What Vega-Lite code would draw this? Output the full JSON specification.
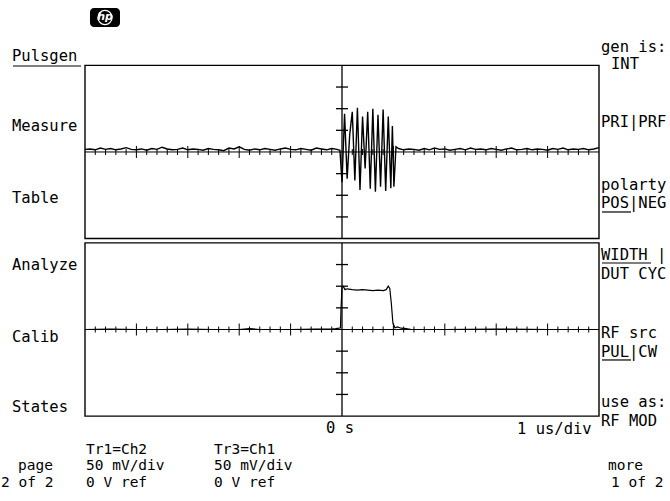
{
"$schema": "https://vega.github.io/schema/vega-lite/v6.json",
"width": 670, "height": 501, "autosize": "none", "padding": 0,
"background": "white",
"config": {"view": {"stroke": null}},
"datasets": {
"top": [
{"t":-5.0,"v":6},{"t":-4.9,"v":7},{"t":-4.8,"v":5},{"t":-4.7,"v":9},{"t":-4.6,"v":6},{"t":-4.5,"v":8},{"t":-4.4,"v":5},{"t":-4.3,"v":7},{"t":-4.2,"v":10},{"t":-4.1,"v":6},
{"t":-4.0,"v":5},{"t":-3.9,"v":7},{"t":-3.8,"v":4},{"t":-3.7,"v":8},{"t":-3.6,"v":6},{"t":-3.5,"v":11},{"t":-3.4,"v":7},{"t":-3.3,"v":5},{"t":-3.2,"v":6},{"t":-3.1,"v":9},
{"t":-3.0,"v":5},{"t":-2.9,"v":7},{"t":-2.8,"v":6},{"t":-2.7,"v":4},{"t":-2.6,"v":8},{"t":-2.5,"v":6},{"t":-2.4,"v":5},{"t":-2.3,"v":3},{"t":-2.2,"v":9},{"t":-2.1,"v":7},
{"t":-2.0,"v":12},{"t":-1.9,"v":6},{"t":-1.8,"v":4},{"t":-1.7,"v":7},{"t":-1.6,"v":5},{"t":-1.5,"v":8},{"t":-1.4,"v":6},{"t":-1.3,"v":4},{"t":-1.2,"v":7},{"t":-1.1,"v":9},
{"t":-1.0,"v":6},{"t":-0.9,"v":5},{"t":-0.8,"v":8},{"t":-0.7,"v":6},{"t":-0.6,"v":4},{"t":-0.5,"v":9},{"t":-0.4,"v":7},{"t":-0.3,"v":5},{"t":-0.2,"v":8},{"t":-0.1,"v":6},{"t":-0.04,"v":4},
{"t":0.0,"v":-70},{"t":0.05,"v":88},{"t":0.1,"v":-62},{"t":0.15,"v":40},{"t":0.2,"v":93},{"t":0.25,"v":-66},{"t":0.3,"v":102},{"t":0.35,"v":-88},{"t":0.4,"v":82},{"t":0.45,"v":-38},
{"t":0.5,"v":93},{"t":0.55,"v":-85},{"t":0.6,"v":100},{"t":0.65,"v":-92},{"t":0.7,"v":86},{"t":0.75,"v":-80},{"t":0.8,"v":98},{"t":0.85,"v":-90},{"t":0.9,"v":82},{"t":0.95,"v":-84},
{"t":0.98,"v":60},{"t":1.01,"v":-80},{"t":1.05,"v":12},{"t":1.1,"v":8},
{"t":1.2,"v":5},{"t":1.3,"v":7},{"t":1.4,"v":6},{"t":1.5,"v":4},{"t":1.6,"v":8},{"t":1.7,"v":5},{"t":1.8,"v":9},{"t":1.9,"v":6},{"t":2.0,"v":7},
{"t":2.1,"v":4},{"t":2.2,"v":6},{"t":2.3,"v":8},{"t":2.4,"v":5},{"t":2.5,"v":9},{"t":2.6,"v":6},{"t":2.7,"v":7},{"t":2.8,"v":5},{"t":2.9,"v":8},{"t":3.0,"v":6},
{"t":3.1,"v":4},{"t":3.2,"v":7},{"t":3.3,"v":9},{"t":3.4,"v":5},{"t":3.5,"v":6},{"t":3.6,"v":8},{"t":3.7,"v":5},{"t":3.8,"v":7},{"t":3.9,"v":6},{"t":4.0,"v":4},
{"t":4.1,"v":8},{"t":4.2,"v":6},{"t":4.3,"v":9},{"t":4.4,"v":5},{"t":4.5,"v":7},{"t":4.6,"v":6},{"t":4.7,"v":8},{"t":4.8,"v":5},{"t":4.9,"v":7},{"t":5.0,"v":10}
],
"bottom": [
{"t":-5.0,"v":0},{"t":-4.5,"v":1},{"t":-4.0,"v":0},{"t":-3.5,"v":0},{"t":-3.0,"v":1},{"t":-2.5,"v":0},{"t":-2.0,"v":0},{"t":-1.8,"v":2},{"t":-1.6,"v":0},{"t":-1.0,"v":0},{"t":-0.5,"v":1},
{"t":-0.2,"v":1},{"t":-0.12,"v":2},{"t":-0.06,"v":3},{"t":-0.03,"v":4},{"t":-0.02,"v":45},
{"t":0.0,"v":99},{"t":0.02,"v":100},{"t":0.04,"v":96},{"t":0.06,"v":92},{"t":0.1,"v":94},{"t":0.2,"v":92},{"t":0.3,"v":91},{"t":0.4,"v":92},{"t":0.5,"v":91},{"t":0.6,"v":90},{"t":0.7,"v":91},{"t":0.8,"v":90},{"t":0.86,"v":92},{"t":0.9,"v":100},{"t":0.93,"v":95},
{"t":0.96,"v":60},{"t":0.99,"v":15},{"t":1.03,"v":4},{"t":1.08,"v":6},{"t":1.15,"v":3},{"t":1.25,"v":2},{"t":1.35,"v":0},{"t":2.0,"v":0},{"t":3.0,"v":1},{"t":4.0,"v":0},{"t":5.0,"v":0}
],
"minor": [{"t":-4.8},{"t":-4.6},{"t":-4.4},{"t":-4.2},{"t":-3.8},{"t":-3.6},{"t":-3.4},{"t":-3.2},{"t":-2.8},{"t":-2.6},{"t":-2.4},{"t":-2.2},{"t":-1.8},{"t":-1.6},{"t":-1.4},{"t":-1.2},{"t":-0.8},{"t":-0.6},{"t":-0.4},{"t":-0.2},{"t":0.2},{"t":0.4},{"t":0.6},{"t":0.8},{"t":1.2},{"t":1.4},{"t":1.6},{"t":1.8},{"t":2.2},{"t":2.4},{"t":2.6},{"t":2.8},{"t":3.2},{"t":3.4},{"t":3.6},{"t":3.8},{"t":4.2},{"t":4.4},{"t":4.6},{"t":4.8}],
"major": [{"t":-4},{"t":-3},{"t":-2},{"t":-1},{"t":1},{"t":2},{"t":3},{"t":4}],
"vticks": [{"v":-150},{"v":-100},{"v":-50},{"v":50},{"v":100},{"v":150}],
"labels": [
{"text":"Pulsgen","t":-6.42,"v":210.2},
{"text":"Measure","t":-6.42,"v":48.5},
{"text":"Table","t":-6.42,"v":-117.8},
{"text":"Analyze","t":-6.42,"v":-272.5},
{"text":"Calib","t":-6.42,"v":-438.8},
{"text":"States","t":-6.42,"v":-600.5},
{"text":"gen is:","t":5.039,"v":230.9},
{"text":"INT","t":5.233,"v":191.7},
{"text":"PRI|PRF","t":5.039,"v":57.7},
{"text":"polarty","t":5.039,"v":-87.8},
{"text":"POS|NEG","t":5.039,"v":-129.3},
{"text":"WIDTH |","t":5.039,"v":-249.4},
{"text":"DUT CYC","t":5.039,"v":-293.3},
{"text":"RF src","t":5.039,"v":-429.6},
{"text":"PUL|CW","t":5.039,"v":-473.5},
{"text":"use as:","t":5.039,"v":-589.0},
{"text":"RF MOD","t":5.039,"v":-632.8},
{"text":"0 s","t":-0.311,"v":-648.9},
{"text":"1 us/div","t":3.405,"v":-651.2}
],
"footer": [
{"text":"Tr1=Ch2","t":-4.981,"v":-697.5},
{"text":"Tr3=Ch1","t":-2.49,"v":-697.5},
{"text":"page","t":-6.304,"v":-735.6},
{"text":"50 mV/div","t":-4.981,"v":-735.6},
{"text":"50 mV/div","t":-2.49,"v":-735.6},
{"text":"more","t":5.175,"v":-735.6},
{"text":"2 of 2","t":-6.634,"v":-774.9},
{"text":"0 V ref","t":-4.981,"v":-774.9},
{"text":"0 V ref","t":-2.49,"v":-774.9},
{"text":"1 of 2","t":5.233,"v":-774.9}
],
"underlines": [
{"t":-6.401,"t2":-5.078,"v":198.6},
{"t":5.058,"t2":5.623,"v":-138.6},
{"t":5.058,"t2":6.012,"v":-256.4},
{"t":5.058,"t2":5.623,"v":-480.4}
]
},
"layer": [
{
"layer": [
{"data":{"values":[{}]},"mark":{"type":"rect","fillOpacity":0,"stroke":"black","strokeWidth":1.4},
 "encoding":{"x":{"datum":-5,"type":"quantitative","scale":{"domain":[-6.6537,6.3813],"nice":false,"zero":false},"axis":null},"x2":{"datum":5},
 "y":{"datum":-200,"type":"quantitative","scale":{"domain":[-806.1,351.0],"nice":false,"zero":false},"axis":null},"y2":{"datum":200}}},
{"data":{"values":[{}]},"mark":{"type":"rule","color":"black","strokeWidth":1},
 "encoding":{"x":{"datum":-5,"type":"quantitative"},"x2":{"datum":5},"y":{"datum":0,"type":"quantitative"}}},
{"data":{"values":[{}]},"mark":{"type":"rule","color":"black","strokeWidth":1.3},
 "encoding":{"x":{"datum":0,"type":"quantitative"},"y":{"datum":-200,"type":"quantitative"},"y2":{"datum":200}}},
{"data":{"name":"minor"},"mark":{"type":"tick","orient":"vertical","size":6,"thickness":1,"color":"black","opacity":1},
 "encoding":{"x":{"field":"t","type":"quantitative"},"y":{"datum":0,"type":"quantitative"}}},
{"data":{"name":"major"},"mark":{"type":"tick","orient":"vertical","size":12,"thickness":1,"color":"black","opacity":1},
 "encoding":{"x":{"field":"t","type":"quantitative"},"y":{"datum":0,"type":"quantitative"}}},
{"data":{"name":"vticks"},"mark":{"type":"tick","orient":"horizontal","size":12,"thickness":1.3,"color":"black","opacity":1},
 "encoding":{"x":{"datum":0,"type":"quantitative"},"y":{"field":"v","type":"quantitative"}}},
{"data":{"name":"top"},"mark":{"type":"line","color":"black","strokeWidth":1.4},
 "encoding":{"x":{"field":"t","type":"quantitative"},"y":{"field":"v","type":"quantitative"}}},
{"data":{"name":"labels"},"mark":{"type":"text","align":"left","baseline":"alphabetic","font":"DejaVu Sans Mono","fontSize":15.5,"color":"black"},
 "encoding":{"x":{"field":"t","type":"quantitative"},"y":{"field":"v","type":"quantitative"},"text":{"field":"text"}}},
{"data":{"name":"footer"},"mark":{"type":"text","align":"left","baseline":"alphabetic","font":"DejaVu Sans Mono","fontSize":14.5,"color":"black"},
 "encoding":{"x":{"field":"t","type":"quantitative"},"y":{"field":"v","type":"quantitative"},"text":{"field":"text"}}},
{"data":{"name":"underlines"},"mark":{"type":"rule","color":"black","strokeWidth":1.2},
 "encoding":{"x":{"field":"t","type":"quantitative"},"x2":{"field":"t2"},"y":{"field":"v","type":"quantitative"}}},
{"data":{"values":[{}]},"mark":{"type":"rect","color":"black","cornerRadius":4},
 "encoding":{"x":{"datum":-4.903,"type":"quantitative"},"x2":{"datum":-4.319},"y":{"datum":332.6,"type":"quantitative"},"y2":{"datum":288.7}}},
{"data":{"values":[{}]},"mark":{"type":"point","shape":"circle","filled":false,"stroke":"white","strokeWidth":1.2,"size":200,"opacity":1},
 "encoding":{"x":{"datum":-4.611,"type":"quantitative"},"y":{"datum":310.6,"type":"quantitative"}}},
{"data":{"values":[{}]},"mark":{"type":"text","text":"hp","font":"DejaVu Sans","fontStyle":"italic","fontWeight":"bold","fontSize":11,"color":"white","align":"center","baseline":"middle"},
 "encoding":{"x":{"datum":-4.611,"type":"quantitative"},"y":{"datum":310.6,"type":"quantitative"}}}
]
},
{
"layer": [
{"data":{"values":[{}]},"mark":{"type":"rect","fillOpacity":0,"stroke":"black","strokeWidth":1.4},
 "encoding":{"x":{"datum":-5,"type":"quantitative"},"x2":{"datum":5},
 "y":{"datum":-200,"type":"quantitative","scale":{"domain":[-396.1,761.0],"nice":false,"zero":false},"axis":null},"y2":{"datum":200}}},
{"data":{"values":[{}]},"mark":{"type":"rule","color":"black","strokeWidth":1},
 "encoding":{"x":{"datum":-5,"type":"quantitative"},"x2":{"datum":5},"y":{"datum":0,"type":"quantitative"}}},
{"data":{"values":[{}]},"mark":{"type":"rule","color":"black","strokeWidth":1.3},
 "encoding":{"x":{"datum":0,"type":"quantitative"},"y":{"datum":-200,"type":"quantitative"},"y2":{"datum":200}}},
{"data":{"name":"minor"},"mark":{"type":"tick","orient":"vertical","size":6,"thickness":1,"color":"black","opacity":1},
 "encoding":{"x":{"field":"t","type":"quantitative"},"y":{"datum":0,"type":"quantitative"}}},
{"data":{"name":"major"},"mark":{"type":"tick","orient":"vertical","size":12,"thickness":1,"color":"black","opacity":1},
 "encoding":{"x":{"field":"t","type":"quantitative"},"y":{"datum":0,"type":"quantitative"}}},
{"data":{"name":"vticks"},"mark":{"type":"tick","orient":"horizontal","size":12,"thickness":1.3,"color":"black","opacity":1},
 "encoding":{"x":{"datum":0,"type":"quantitative"},"y":{"field":"v","type":"quantitative"}}},
{"data":{"name":"bottom"},"mark":{"type":"line","color":"black","strokeWidth":1.2},
 "encoding":{"x":{"field":"t","type":"quantitative"},"y":{"field":"v","type":"quantitative"}}}
]
}
],
"resolve": {"scale": {"y": "independent"}}
}
